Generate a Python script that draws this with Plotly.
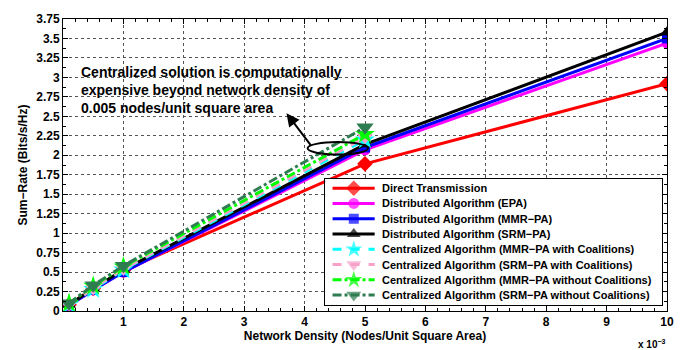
import plotly.graph_objects as go

# Network density (x 10^-3)
x_all = [0.1, 0.5, 1, 5, 10]
x_cent = [0.1, 0.5, 1, 5]

direct = [0.08, 0.29, 0.52, 1.89, 2.92]
dist_epa = [0.07, 0.27, 0.50, 2.07, 3.44]
dist_mmr = [0.07, 0.27, 0.50, 2.10, 3.50]
dist_srm = [0.08, 0.29, 0.53, 2.14, 3.58]

cent_mmr_coal = [0.08, 0.28, 0.53, 2.20]
cent_srm_coal = [0.08, 0.29, 0.54, 2.23]
cent_mmr_nocoal = [0.10, 0.32, 0.57, 2.27]
cent_srm_nocoal = [0.10, 0.33, 0.58, 2.36]

names = [
    "Direct Transmission",
    "Distributed Algorithm (EPA)",
    "Distributed Algorithm (MMR\u2212PA)",
    "Distributed Algorithm (SRM\u2212PA)",
    "Centralized Algorithm (MMR\u2212PA with Coalitions)",
    "Centralized Algorithm (SRM\u2212PA with Coalitions)",
    "Centralized Algorithm (MMR\u2212PA without Coalitions)",
    "Centralized Algorithm (SRM\u2212PA without Coalitions)",
]

series = [
    (x_all, direct, "#ff0000", "solid", "diamond", 12),
    (x_all, dist_epa, "#ff00ff", "solid", "circle", 11),
    (x_all, dist_mmr, "#0000ff", "solid", "square", 10),
    (x_all, dist_srm, "#000000", "solid", "triangle-up", 12),
    (x_cent, cent_mmr_coal, "#00ffff", "dash", "star", 15),
    (x_cent, cent_srm_coal, "#f7a1c9", "dash", "triangle-down", 14),
    (x_cent, cent_mmr_nocoal, "#00ff00", "dashdot", "star", 15),
    (x_cent, cent_srm_nocoal, "#2e7d50", "dashdot", "triangle-down", 15),
]

FONT = "Liberation Sans, Arial"
bold = dict(family=FONT, size=12, color="black", weight="bold")

fig = go.Figure()
for name, (xs, ys, col, dash, sym, ms) in zip(names, series):
    fig.add_trace(go.Scatter(
        x=xs, y=ys, name=name, mode="lines+markers", showlegend=False,
        line=dict(color=col, width=3, dash=dash),
        marker=dict(symbol=sym, size=ms, color=col, line=dict(width=0)),
        xaxis="x", yaxis="y",
    ))

# ---- legend drawn as an inset box (opaque, like the reference) ----
n = len(names)
row_h = 1.0 / (n + 0.28)
for i, (name, (xs, ys, col, dash, sym, ms)) in enumerate(zip(names, series)):
    yc = 1.0 - row_h * (0.62 + i)
    fig.add_trace(go.Scatter(
        x=[0.022, 0.085, 0.147], y=[yc, yc, yc], mode="lines+markers",
        showlegend=False, hoverinfo="skip",
        line=dict(color=col, width=3, dash=dash),
        marker=dict(symbol=sym, size=[0, min(ms, 13), 0], color=col, line=dict(width=0)),
        xaxis="x2", yaxis="y2",
    ))
    fig.add_annotation(
        x=0.163, y=yc, xref="x2", yref="y2", xanchor="left", yanchor="middle",
        text=name, showarrow=False,
        font=dict(family=FONT, size=11, color="black", weight="bold"),
    )

fig.update_layout(
    width=700, height=350,
    margin=dict(l=63, r=33, t=15, b=39),
    plot_bgcolor="white", paper_bgcolor="white",
    font=bold,
    showlegend=False,
    xaxis=dict(
        range=[0, 10], tickmode="array", tickvals=list(range(1, 11)),
        showgrid=True, gridcolor="#555555", griddash="dot", gridwidth=1,
        showline=True, linecolor="black", linewidth=1, mirror="ticks",
        ticks="inside", ticklen=5, tickcolor="black",
        minor=dict(ticks="inside", ticklen=3, dtick=0.2, tickcolor="black", showgrid=False),
        zeroline=False,
        tickfont=bold,
        title=dict(text="Network Density (Nodes/Unit Square Area)", font=bold, standoff=0),
    ),
    yaxis=dict(
        range=[0, 3.75], tickmode="linear", tick0=0, dtick=0.25,
        showgrid=True, gridcolor="#555555", griddash="dot", gridwidth=1,
        showline=True, linecolor="black", linewidth=1, mirror="ticks",
        ticks="inside", ticklen=5, tickcolor="black",
        minor=dict(ticks="inside", ticklen=3, dtick=0.125, tickcolor="black", showgrid=False),
        zeroline=False,
        tickfont=bold,
        tickformat="~g",
        title=dict(text="Sum\u2212Rate (Bits/s/Hz)", font=bold, standoff=6),
    ),
    xaxis2=dict(
        domain=[0.434, 0.992], anchor="y2", range=[0, 1],
        showgrid=False, zeroline=False, showticklabels=False, ticks="",
        showline=True, mirror=True, linecolor="black", linewidth=1, fixedrange=True,
    ),
    yaxis2=dict(
        domain=[0.02, 0.453], anchor="x2", range=[0, 1],
        showgrid=False, zeroline=False, showticklabels=False, ticks="",
        showline=True, mirror=True, linecolor="black", linewidth=1, fixedrange=True,
    ),
)

# text annotation
fig.add_annotation(
    x=0.27, y=3.2, xref="x", yref="y", xanchor="left", yanchor="top", align="left",
    text="Centralized solution is computationally<br>expensive beyond network density of<br>0.005 nodes/unit square area",
    showarrow=False, font=dict(family=FONT, size=14, color="black", weight="bold"),
)
# arrow
fig.add_annotation(
    x=3.7, y=2.54, ax=4.12, ay=2.11, xref="x", yref="y", axref="x", ayref="y",
    text="", showarrow=True, arrowhead=2, arrowsize=1.3, arrowwidth=2, arrowcolor="black",
)
# ellipse
fig.add_shape(type="circle", xref="x", yref="y", x0=4.05, x1=5.05, y0=2.01, y1=2.17,
              line=dict(color="black", width=2))
# exponent label
fig.add_annotation(
    x=0.975, y=-0.085, xref="paper", yref="paper", xanchor="center", yanchor="top",
    text="x 10<sup>\u22123</sup>", showarrow=False,
    font=dict(family=FONT, size=10, color="black", weight="bold"),
)

fig.write_html("out.html")
